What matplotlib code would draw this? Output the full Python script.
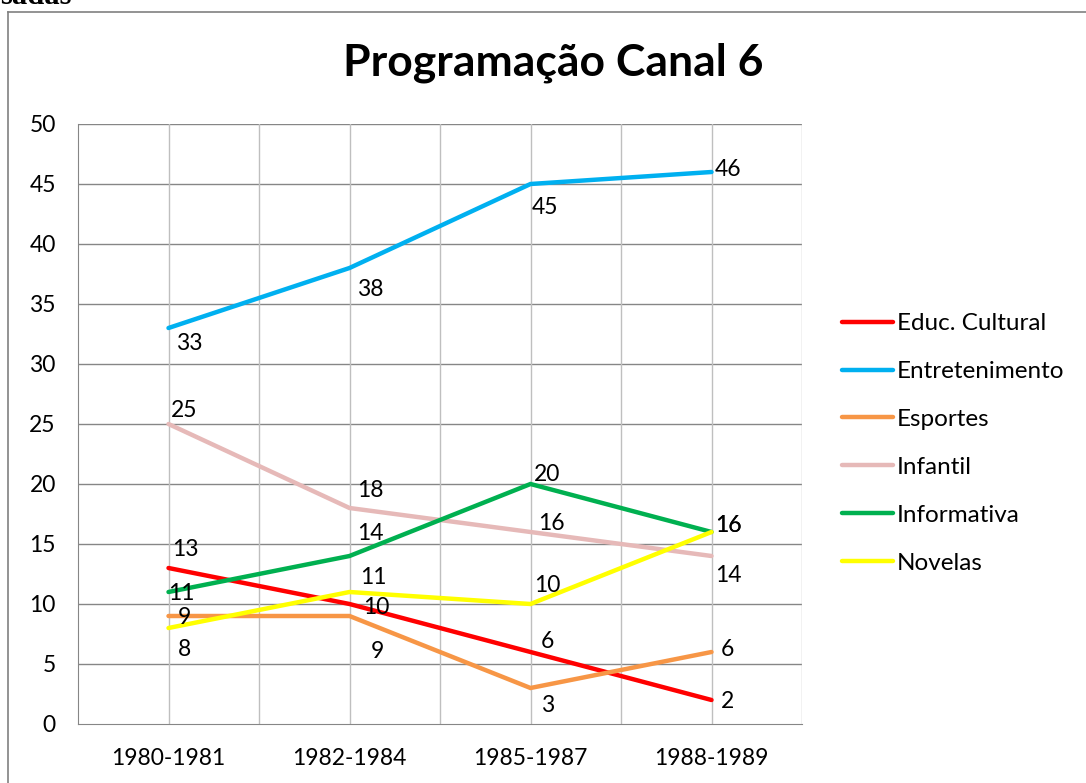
import matplotlib
matplotlib.use("Agg")
import matplotlib.pyplot as plt
from matplotlib.lines import Line2D

categories = ["1980-1981", "1982-1984", "1985-1987", "1988-1989"]
series_names = ["Educ. Cultural", "Entretenimento", "Esportes", "Infantil", "Informativa", "Novelas"]
educ = [13, 10, 6, 2]
entret = [33, 38, 45, 46]
esportes = [9, 9, 3, 6]
infantil = [25, 18, 16, 14]
informativa = [11, 14, 20, 16]
novelas = [8, 11, 10, 16]
series_values = [educ, entret, esportes, infantil, informativa, novelas]
colors = ["#FF0000", "#00B0F0", "#F79646", "#E6B9B8", "#00B050", "#FFFF00"]

# label offsets in pixels (dx right, dy up) relative to each point
label_offsets = [
    [(17, 18), (27, -3), (17, 11), (16, -1)],
    [(21, -16), (21, -21), (14, -23), (17, 2)],
    [(16, -1), (28, -36), (17, -17), (16, 3)],
    [(16, 13), (21, 17), (21, 8), (17, -19)],
    [(13, -1), (21, 23), (17, 9), (17, 7)],
    [(16, -21), (24, 15), (17, 19), (17, 7)],
]

FONT = "Lato"
fig = plt.figure(figsize=(10.86, 7.83), dpi=100)
W, H = 1086, 783
ax = fig.add_axes([78 / W, 1 - 724 / H, (802 - 78) / W, (724 - 124) / H])

x = list(range(len(categories)))
for name, vals, col in zip(series_names, series_values, colors):
    ax.plot(x, vals, color=col, lw=3.2, solid_capstyle="round", solid_joinstyle="miter", zorder=3)

for vals, offs in zip(series_values, label_offsets):
    for xi, v, (dx, dy) in zip(x, vals, offs):
        ax.annotate(str(v), (xi, v), xytext=(dx, dy), textcoords="offset pixels",
                    ha="center", va="center", fontsize=16.5, family=FONT, color="black", zorder=4)

ax.set_xlim(-0.5, 3.5)
ax.set_ylim(0, 50)
ax.set_yticks(range(0, 51, 5))
ax.set_xticks(x)
ax.set_xticklabels(categories)
for y in range(5, 51, 5):
    ax.axhline(y, color="#868686", lw=1.0, zorder=1)
for xv in [0, 0.5, 1, 1.5, 2, 2.5, 3, 3.5]:
    ax.axvline(xv, color="#BFBFBF", lw=1.0, zorder=1)
for s in ["top", "right"]:
    ax.spines[s].set_visible(False)
ax.spines["left"].set_color("#868686")
ax.spines["bottom"].set_color("#868686")
ax.tick_params(axis="both", length=0, labelsize=16.5)
ax.tick_params(axis="x", pad=17)
ax.tick_params(axis="y", pad=16)
for lbl in ax.get_xticklabels() + ax.get_yticklabels():
    lbl.set_family(FONT)

fig.text(553 / W, 1 - 63 / H, "Programação Canal 6", ha="center", va="center",
         fontsize=32, fontweight="bold", family=FONT)

handles = [Line2D([0], [0], color=c, lw=3.2, solid_capstyle="round") for c in colors]
fig.legend(handles, series_names, loc="upper left", bbox_to_anchor=(842 / W, 1 - 313 / H),
           frameon=False, prop={"family": FONT, "size": 17.5}, handlelength=2.1,
           handletextpad=0.15, labelspacing=1.11, borderpad=0, borderaxespad=0,
           handleheight=0.7)

# outer frame
fig.add_artist(Line2D([8 / W, 8 / W], [0, 1 - 12 / H], color="#808080", lw=1.2, transform=fig.transFigure))
fig.add_artist(Line2D([8 / W, 1], [1 - 12 / H, 1 - 12 / H], color="#808080", lw=1.2, transform=fig.transFigure))
fig.text(72 / W, 1 - 4 / H, "sadas", ha="right", va="baseline", fontsize=22,
         fontweight="bold", family="Liberation Serif")

fig.savefig("out.png", dpi=100)
